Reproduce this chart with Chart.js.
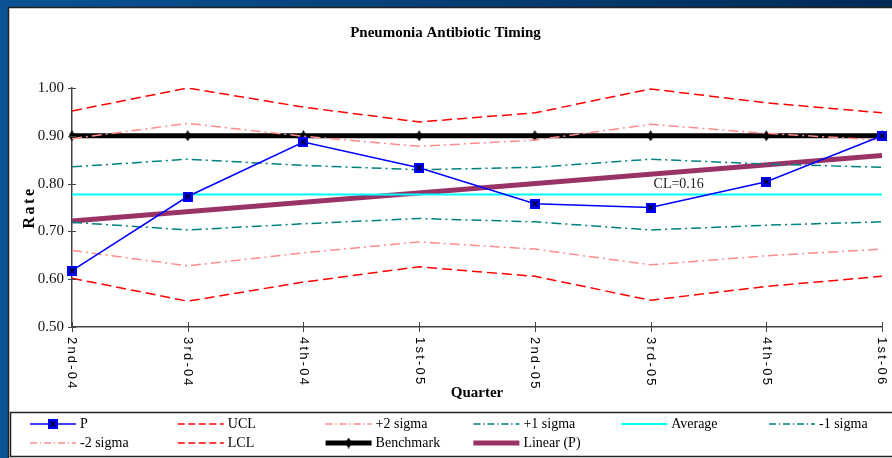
<!DOCTYPE html>
<html>
<head>
<meta charset="utf-8">
<script src="https://cdn.jsdelivr.net/npm/chart.js@4.4.1/dist/chart.umd.min.js"></script>
<style>
  html, body { margin: 0; padding: 0; background: #fff; }
  canvas { display: block; }
</style>
</head>
<body>
<canvas id="spc" width="892" height="458"></canvas>
<script>
const quarters = ['2nd-04', '3rd-04', '4th-04', '1st-05', '2nd-05', '3rd-05', '4th-05', '1st-06'];
const pRate = [0.618, 0.773, 0.887, 0.833, 0.758, 0.750, 0.804, 0.900];
const ucl = [0.952, 1.000, 0.960, 0.929, 0.948, 0.998, 0.969, 0.948];
const plus2 = [0.894, 0.926, 0.899, 0.878, 0.891, 0.924, 0.905, 0.891];
const plus1 = [0.835, 0.851, 0.838, 0.829, 0.834, 0.851, 0.841, 0.834];
const average = [0.777, 0.777, 0.777, 0.777, 0.777, 0.777, 0.777, 0.777];
const minus1 = [0.719, 0.703, 0.716, 0.727, 0.720, 0.703, 0.713, 0.720];
const minus2 = [0.660, 0.628, 0.655, 0.678, 0.663, 0.630, 0.649, 0.663];
const lcl = [0.602, 0.554, 0.594, 0.626, 0.606, 0.556, 0.585, 0.606];
const benchmark = [0.90, 0.90, 0.90, 0.90, 0.90, 0.90, 0.90, 0.90];
const trend = [0.722, null, null, null, null, null, null, 0.859];
const yTicks = [0.50, 0.60, 0.70, 0.80, 0.90, 1.00];
const clLabel = 'CL=0.16';

const SERIF = '"Liberation Serif", "Times New Roman", serif';
const SANS = '"Liberation Sans", Arial, sans-serif';
const DASH = [10, 5];
const DASHDOT = [10, 4, 2, 4];

// blue square with a black x, used for P
function makeMarker() {
  const c = document.createElement('canvas');
  c.width = 10; c.height = 10;
  const g = c.getContext('2d');
  g.fillStyle = '#0000FF';
  g.fillRect(0, 0, 10, 10);
  g.strokeStyle = '#000';
  g.lineWidth = 1.2;
  g.beginPath();
  g.moveTo(2.5, 2.5); g.lineTo(7.5, 7.5);
  g.moveTo(7.5, 2.5); g.lineTo(2.5, 7.5);
  g.stroke();
  return c;
}
// narrow black diamond for the benchmark
function makeDiamond() {
  const c = document.createElement('canvas');
  c.width = 7; c.height = 11;
  const g = c.getContext('2d');
  g.fillStyle = '#000';
  g.beginPath();
  g.moveTo(3.5, 0); g.lineTo(7, 5.5); g.lineTo(3.5, 11); g.lineTo(0, 5.5);
  g.closePath();
  g.fill();
  return c;
}
const pMarker = makeMarker();
const diamond = makeDiamond();

function line(label, data, color, width, dash) {
  return { label, data, borderColor: color, backgroundColor: color, borderWidth: width,
           borderDash: dash || [], pointRadius: 0, tension: 0, fill: false };
}

const datasets = [
  Object.assign(line('P', pRate, '#0000FF', 1.5), { pointStyle: pMarker, pointRadius: 5 }),
  line('UCL', ucl, '#FF0000', 1.5, DASH),
  line('+2 sigma', plus2, '#FF8C8C', 1.5, DASHDOT),
  line('+1 sigma', plus1, '#008080', 1.5, DASHDOT),
  line('Average', average, '#00FFFF', 2),
  line('-1 sigma', minus1, '#008080', 1.5, DASHDOT),
  line('-2 sigma', minus2, '#FF8C8C', 1.5, DASHDOT),
  line('LCL', lcl, '#FF0000', 1.5, DASH),
  Object.assign(line('Benchmark', benchmark, '#000000', 5), { pointStyle: diamond, pointRadius: 4 }),
  Object.assign(line('Linear (P)', trend, '#993366', 5), { spanGaps: true })
];

const framePlugin = {
  id: 'frame',
  beforeDraw(chart) {
    const ctx = chart.ctx;
    const w = chart.width, h = chart.height;
    const grad = ctx.createLinearGradient(0, 0, w, 0);
    grad.addColorStop(0, '#0b5394');
    grad.addColorStop(1, '#002a55');
    ctx.save();
    ctx.fillStyle = grad;
    ctx.fillRect(0, 0, w, h);
    ctx.fillStyle = '#fff';
    ctx.fillRect(8, 7, w - 8, h - 7);
    ctx.strokeStyle = '#222';
    ctx.lineWidth = 1.5;
    ctx.beginPath();
    ctx.moveTo(8.5, h); ctx.lineTo(8.5, 7.5); ctx.lineTo(w, 7.5);
    ctx.stroke();
    ctx.restore();
  },
  afterDraw(chart) {
    const ctx = chart.ctx;
    const x = chart.scales.x, y = chart.scales.y;
    const area = chart.chartArea;
    ctx.save();

    // tick marks crossing the axes
    ctx.strokeStyle = '#444';
    ctx.lineWidth = 1;
    ctx.beginPath();
    yTicks.forEach(v => {
      const py = Math.round(y.getPixelForValue(v)) + 0.5;
      ctx.moveTo(area.left - 4, py); ctx.lineTo(area.left + 4, py);
    });
    quarters.forEach((q, i) => {
      const px = Math.round(x.getPixelForValue(i)) + 0.5;
      ctx.moveTo(px, area.bottom - 5); ctx.lineTo(px, area.bottom + 5);
    });
    ctx.stroke();

    // quarter labels, turned clockwise
    ctx.fillStyle = '#000';
    ctx.font = '13px ' + SANS;
    ctx.letterSpacing = '2.2px';
    ctx.textAlign = 'left';
    ctx.textBaseline = 'middle';
    quarters.forEach((q, i) => {
      ctx.save();
      ctx.translate(x.getPixelForValue(i), area.bottom + 10);
      ctx.rotate(Math.PI / 2);
      ctx.fillText(q, 0, 0);
      ctx.restore();
    });

    // axis titles
    ctx.font = 'bold 15px ' + SERIF;
    ctx.letterSpacing = '0px';
    ctx.textAlign = 'center';
    ctx.fillText('Quarter', (area.left + area.right) / 2, 393);
    ctx.save();
    ctx.translate(30, (area.top + area.bottom) / 2);
    ctx.rotate(-Math.PI / 2);
    ctx.font = 'bold 16px ' + SERIF;
    ctx.letterSpacing = '2.5px';
    ctx.fillText('Rate', 0, 0);
    ctx.restore();

    // centre line note
    ctx.letterSpacing = '0px';
    ctx.font = '14px ' + SERIF;
    ctx.textAlign = 'left';
    ctx.fillStyle = '#222';
    ctx.fillText(clLabel, x.getPixelForValue(5) + 3, y.getPixelForValue(average[5]) - 10);

    // legend box
    ctx.strokeStyle = '#222';
    ctx.lineWidth = 1.5;
    ctx.beginPath();
    ctx.moveTo(10, 412.5); ctx.lineTo(chart.width, 412.5);
    ctx.moveTo(10.5, 412); ctx.lineTo(10.5, 457);
    ctx.moveTo(10, 456.5); ctx.lineTo(chart.width, 456.5);
    ctx.stroke();

    ctx.font = '14px ' + SERIF;
    ctx.fillStyle = '#000';
    chart.data.datasets.forEach((ds, i) => {
      const lx = 30 + (i % 6) * 147.8;
      const ly = 424 + Math.floor(i / 6) * 19;
      ctx.save();
      ctx.strokeStyle = ds.borderColor;
      ctx.lineWidth = ds.borderWidth;
      ctx.setLineDash(ds.borderDash.map(d => d * 0.7));
      ctx.beginPath();
      ctx.moveTo(lx, ly); ctx.lineTo(lx + 46, ly);
      ctx.stroke();
      ctx.restore();
      if (ds.label === 'P') ctx.drawImage(pMarker, lx + 18, ly - 5);
      if (ds.label === 'Benchmark') ctx.drawImage(diamond, lx + 19.5, ly - 5.5);
      ctx.textBaseline = 'middle';
      ctx.fillText(ds.label, lx + 50, ly);
    });
    ctx.restore();
  }
};

new Chart(document.getElementById('spc'), {
  type: 'line',
  data: { labels: quarters, datasets },
  plugins: [framePlugin],
  options: {
    responsive: false,
    animation: false,
    events: [],
    layout: { padding: { left: 9, right: 10, top: 0, bottom: 0 } },
    plugins: {
      legend: { display: false },
      tooltip: { enabled: false },
      title: {
        display: true,
        text: 'Pneumonia Antibiotic Timing',
        color: '#000',
        font: { family: SERIF, size: 15, weight: 'bold' },
        padding: { top: 24, bottom: 46 }
      }
    },
    scales: {
      x: {
        offset: false,
        grid: { display: false, drawTicks: false },
        border: { color: '#444', width: 1.5 },
        ticks: { display: false },
        afterFit(s) { s.height = 131; }
      },
      y: {
        min: 0.5,
        max: 1.0,
        grid: { display: false, drawTicks: false },
        border: { color: '#444', width: 1.5 },
        afterBuildTicks(s) { s.ticks = yTicks.map(v => ({ value: v })); },
        ticks: {
          color: '#111',
          padding: 8,
          font: { family: SERIF, size: 15 },
          callback: v => v.toFixed(2)
        },
        afterFit(s) { s.width = 63; }
      }
    }
  }
});
</script>
</body>
</html>
